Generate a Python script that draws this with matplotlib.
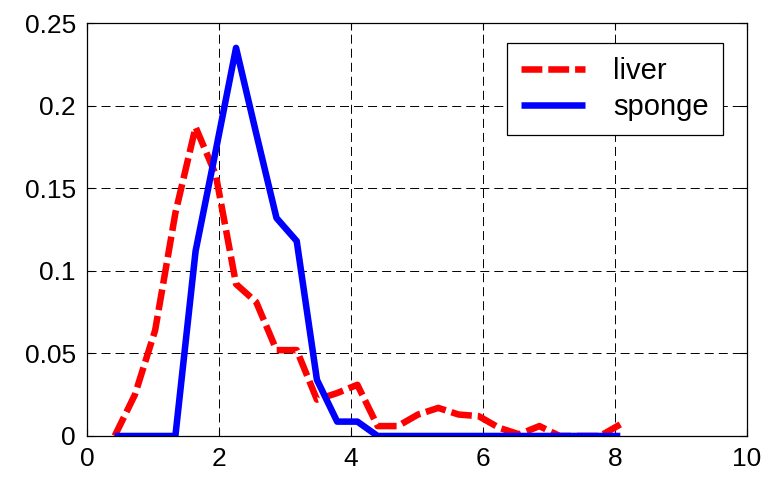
import numpy as np
import matplotlib.pyplot as plt

plt.rcParams['font.family'] = ['Liberation Sans', 'DejaVu Sans']
plt.rcParams['lines.scale_dashes'] = False

# sample positions (26 bins)
x = np.linspace(0.42, 8.08, 26)

liver = [0.0, 0.025, 0.064, 0.135, 0.187, 0.158, 0.092, 0.081, 0.052, 0.052,
         0.022, 0.026, 0.031, 0.006, 0.006, 0.013, 0.017, 0.013, 0.012, 0.005,
         0.001, 0.006, 0.0, 0.0, 0.0, 0.007]
sponge = [0.0, 0.0, 0.0, 0.0, 0.112, 0.173, 0.235, 0.183, 0.132, 0.118,
          0.034, 0.0087, 0.0087, 0.0, 0.0, 0.0, 0.0, 0.0, 0.0, 0.0,
          0.0, 0.0, 0.0, 0.0, 0.0, 0.0]

xticks = [0, 2, 4, 6, 8, 10]
yticks = [0, 0.05, 0.1, 0.15, 0.2, 0.25]
yticklabels = ['0', '0.05', '0.1', '0.15', '0.2', '0.25']

fig = plt.figure(figsize=(7.65, 4.79), dpi=100)
ax = fig.add_axes([0.1137, 0.0898, 0.8628, 0.862])

ax.plot(x, liver, color='red', linewidth=4.7, linestyle=(0, (15, 4.3)),
        solid_capstyle='butt', dash_capstyle='butt', label='liver')
ax.plot(x, sponge, color='blue', linewidth=4.7, solid_capstyle='butt',
        label='sponge')

ax.set_xlim(0, 10)
ax.set_ylim(0, 0.25)
ax.set_xticks(xticks)
ax.set_yticks(yticks)
ax.set_yticklabels(yticklabels)
ax.tick_params(direction='in', length=5, width=0.8, top=True, right=True,
               labelsize=19, pad=8)
ax.grid(True, color='black', linewidth=0.7, linestyle=(0, (6.5, 3.6)))
for s in ax.spines.values():
    s.set_linewidth(0.9)

leg = ax.legend(loc='upper right', bbox_to_anchor=(0.964, 0.952),
                borderaxespad=0, fontsize=21, handlelength=2.2,
                handletextpad=0.95, fancybox=False, framealpha=1,
                edgecolor='black', borderpad=0.5, labelspacing=0.25)
leg.get_frame().set_linewidth(0.9)

fig.savefig('out.png', dpi=100)
